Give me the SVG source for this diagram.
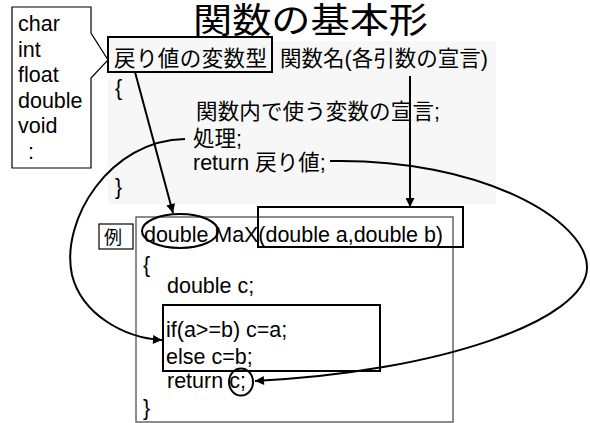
<svg xmlns="http://www.w3.org/2000/svg" width="590" height="423" viewBox="0 0 590 423">
<defs>
<style>
text{font-family:"Liberation Sans","Noto Sans CJK JP",sans-serif;fill:#000;}
.t{font-size:21.5px;}
.ln{fill:none;stroke:#000;stroke-width:2;}
</style>
<marker id="ah" viewBox="0 0 10 10" refX="10" refY="5" markerWidth="11" markerHeight="9" markerUnits="userSpaceOnUse" orient="auto">
<path d="M0,0 L10,5 L0,10 Z" fill="#000"/>
</marker>
</defs>
<rect width="590" height="423" fill="#fff"/>
<g id="title"><text x="193" y="33" style="font-size:35px" textLength="235" lengthAdjust="spacingAndGlyphs">関数の基本形</text></g>
<g id="template">
<rect x="108" y="41" width="388" height="163" fill="#f7f7f7"/>
<text class="t" x="196" y="119" textLength="244">関数内で使う変数の宣言;</text>
<text class="t" x="193" y="146">処理;</text>
<text class="t" x="193" y="170">return 戻り値;</text>
<text class="t" x="115" y="95">{</text>
<text class="t" x="115" y="194">}</text>
<text class="t" x="280" y="66" textLength="208">関数名(各引数の宣言)</text>
</g>
<g id="rettype">
<rect x="108" y="37" width="164" height="35" fill="#f7f7f7" stroke="#000" stroke-width="2"/>
<text class="t" x="114" y="66" textLength="153">戻り値の変数型</text>
</g>
<g id="types">
<path d="M91,33 L91,7 L12,7 L12,168 L91,168 L91,78 L108,60 Z" fill="#fff" stroke="#000" stroke-width="1.2"/>
<text class="t" x="18" y="31">char</text>
<text class="t" x="18" y="57">int</text>
<text class="t" x="18" y="82">float</text>
<text class="t" x="18" y="108">double</text>
<text class="t" x="18" y="133">void</text>
<text class="t" x="28" y="159">:</text>
</g>
<g id="example">
<rect x="136" y="217" width="317" height="205" fill="#fff" stroke="#666" stroke-width="1.5"/>
<text class="t" x="144" y="242" textLength="299">double MaX(double a,double b)</text>
<text class="t" x="143" y="272">{</text>
<text class="t" x="167" y="293">double c;</text>
<text class="t" x="166" y="337">if(a&gt;=b) c=a;</text>
<text class="t" x="166" y="364">else c=b;</text>
<text class="t" x="167" y="388">return c;</text>
<text class="t" x="143" y="415">}</text>
</g>
<g id="rei">
<rect x="99" y="224" width="34" height="25" fill="#fff" stroke="#000" stroke-width="1.2"/>
<text x="104" y="244" style="font-size:18px">例</text>
</g>
<g id="hl-type"><ellipse cx="180" cy="231" rx="38" ry="17" class="ln"/></g>
<g id="hl-args"><rect x="258" y="207" width="205" height="40" class="ln"/></g>
<g id="hl-body"><rect x="163" y="305" width="217" height="66" class="ln"/></g>
<g id="hl-ret"><ellipse cx="241" cy="382" rx="12" ry="13.5" class="ln"/></g>
<g id="connectors">
<path class="ln" d="M135,72 L173,213" marker-end="url(#ah)"/>
<path class="ln" d="M410,76 L410,207" marker-end="url(#ah)"/>
<path class="ln" d="M185,139 C110,140 60,220 72,275 C82,315 125,338 162,340" marker-end="url(#ah)"/>
<path class="ln" d="M330,161 C480,158 588,220 587,268 C586,320 440,372 255,381" marker-end="url(#ah)"/>
</g>
</svg>
